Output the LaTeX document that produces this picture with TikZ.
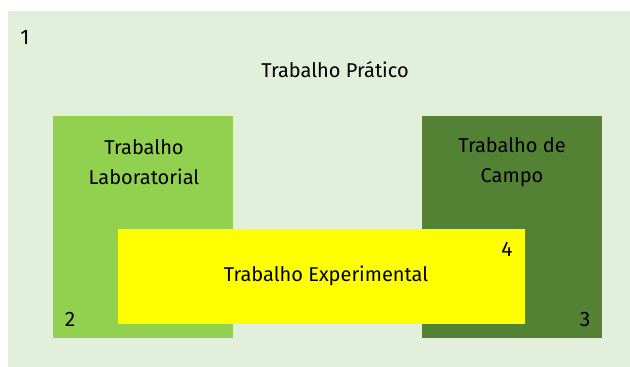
\documentclass[tikz,border=0pt]{standalone}
\usepackage{fontspec}
\setmainfont{Fira Sans}
\definecolor{fundo}{HTML}{E2EFDA}
\definecolor{verdeclaro}{HTML}{92D050}
\definecolor{verdeescuro}{HTML}{548235}
\definecolor{amarelo}{HTML}{FFFF00}

\begin{document}
\begin{tikzpicture}[x=1pt, y=-1pt, line cap=round, line join=round,
  caixa/.style={inner sep=0pt, outer sep=0pt, anchor=north west},
  rotulo/.style={font=\fontsize{20}{30}\selectfont, align=center, text=black},
  numero/.style={font=\fontsize{21}{22}\selectfont, text=black}]
  % Margens
  \useasboundingbox (0,0) rectangle (630,367);

  % Caixas
  \node[caixa, fill=fundo, minimum width=622, minimum height=356] (pratico) at (8,11) {};
  \node[caixa, fill=verdeclaro, minimum width=180, minimum height=222] (lab) at (53,116) {};
  \node[caixa, fill=verdeescuro, minimum width=180, minimum height=222] (campo) at (422,116) {};
  \node[caixa, fill=amarelo, minimum width=407, minimum height=95] (exper) at (118,229) {};

  % Textos
  \node[rotulo] (tpratico) at (335,70) {Trabalho Prático};
  \node[rotulo] (tlab) at (144,162) {Trabalho\\Laboratorial};
  \node[rotulo] (tcampo) at (512,162) {Trabalho de\\Campo};
  \node[rotulo] (texper) at (326,276) {Trabalho Experimental};

  % Números
  \node[numero] (n1) at (25,37) {1};
  \node[numero] (n2) at (70,319) {2};
  \node[numero] (n3) at (585,319) {3};
  \node[numero] (n4) at (507,249) {4};
\end{tikzpicture}
\end{document}
